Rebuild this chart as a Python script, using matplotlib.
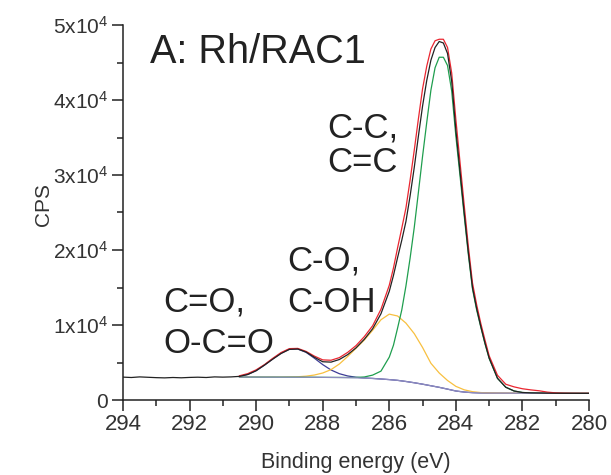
import numpy as np
import matplotlib
matplotlib.use("Agg")
import matplotlib.pyplot as plt
from matplotlib.ticker import MultipleLocator, FuncFormatter

plt.rcParams['font.family'] = ['Liberation Sans', 'DejaVu Sans']
plt.rcParams['mathtext.fontset'] = 'custom'
plt.rcParams['mathtext.rm'] = 'Liberation Sans'
plt.rcParams['mathtext.default'] = 'regular'

# binding energy grid (eV): 0.25 eV steps, 0.125 eV across the main peak
energy = np.concatenate([np.arange(294.0, 286.1, -0.25),
                         np.arange(286.0, 282.9, -0.125),
                         np.arange(282.75, 279.99, -0.25)])

# measured C1s spectrum (counts per second)
raw_cps = [3050, 3000, 3080, 3030, 2980, 2950, 3000, 2960, 3010, 3040,
           3000, 3080, 3050, 3080, 3150, 3400, 3900, 4650, 5450, 6200,
           6750, 6800, 6400, 5700, 5100, 5050, 5400, 6050, 6950, 8100,
           9500, 11500,
           14500, 16600, 19000, 21300, 23800, 27200, 31000, 35200, 39200, 42600,
           45300, 47000, 47800, 47600, 46200, 42500, 36000, 30500, 25000, 19700,
           15000, 12200, 9800, 7600, 5600,
           2900, 1700, 1200, 1000, 950, 930, 910, 900, 890, 890,
           885, 885]

# fitted range 290.5 -> 280 eV (same grid as the spectrum)
fit_energy = energy[14:]

envelope = [3230, 3520, 4020, 4720, 5560, 6330, 6850, 6880, 6480, 5850,
            5350, 5300, 5650, 6350, 7250, 8450, 9900, 12100,
            15300, 17600, 20300, 22900, 25600, 29300, 33300, 37500, 41500, 44500,
            46800, 47900, 48100, 48100, 47000, 43600, 37400, 31700, 26000, 20500,
            15600, 12700, 10200, 8000, 5900,
            3300, 2100, 1750, 1500, 1350, 1230, 1050, 950, 910, 895,
            888, 885]

# C-C, C=C component
peak_cc = [3060, 3055, 3055, 3050, 3050, 3045, 3045, 3040, 3035, 3030,
           3020, 3012, 3005, 3000, 3010, 3070, 3320, 3850,
           5720, 7300, 9600, 12000, 15200, 18900, 23000, 27700, 32500, 37000,
           41300, 44300, 45700, 45700, 44600, 41200, 35200, 29900, 24600, 19400,
           14800, 12000, 9700, 7500, 5550,
           2895, 1700, 1200, 1000, 945, 930, 910, 900, 895, 885,
           885, 885]

# background and the two oxygen components, 0.25 eV grid
comp_energy = np.arange(290.5, 279.99, -0.25)

background = [3060, 3055, 3055, 3050, 3050, 3045, 3045, 3040, 3035, 3030,
              3020, 3010, 3000, 2980, 2950, 2910, 2870, 2800, 2720, 2620,
              2470, 2300, 2110, 1900, 1690, 1450, 1200, 1060, 980, 940,
              920, 910, 905, 900, 900, 895, 895, 890, 890, 890,
              885, 885, 885]

# C=O, O-C=O component
peak_coo = [3150, 3420, 3920, 4650, 5480, 6250, 6780, 6800, 6355, 5570,
            4720, 4002, 3506, 3206, 3038, 2940, 2879, 2800, 2720, 2620,
            2470, 2300, 2110, 1900, 1690, 1450, 1200, 1060, 980, 940,
            920, 910, 905, 900, 900, 895, 895, 890, 890, 890,
            885, 885, 885]

# C-O, C-OH component
peak_coh = [3060, 3055, 3055, 3050, 3055, 3057, 3075, 3100, 3175, 3330,
            3600, 4050, 4800, 5800, 6900, 8000, 9300, 10700, 11450, 11200,
            10250, 8850, 7000, 4900, 3600, 2600, 1820, 1360, 1110, 990,
            940, 915, 905, 900, 900, 895, 895, 890, 890, 890,
            885, 885, 885]

fig = plt.figure(figsize=(6.11, 4.75), dpi=100)
ax = fig.add_axes([123 / 611, 75 / 475, 466 / 611, 375 / 475])

ax.plot(comp_energy, peak_coo, color='#3c3c96', lw=0.9)
ax.plot(comp_energy, peak_coh, color='#f8c040', lw=0.9)
ax.plot(fit_energy, peak_cc, color='#1f9e4e', lw=0.9)
ax.plot(comp_energy, background, color='#8e8cc0', lw=0.9)
ax.plot(fit_energy, envelope, color='#ea2630', lw=0.9)
ax.plot(energy, raw_cps, color='#222222', lw=0.9)

ax.set_xlim(294, 280)
ax.set_ylim(0, 50000)
ax.spines['top'].set_visible(False)
ax.spines['right'].set_visible(False)
for s in ['left', 'bottom']:
    ax.spines[s].set_linewidth(1.1)
    ax.spines[s].set_color('#222222')

ax.xaxis.set_major_locator(MultipleLocator(2))
ax.xaxis.set_minor_locator(MultipleLocator(1))
ax.yaxis.set_major_locator(MultipleLocator(10000))
ax.yaxis.set_minor_locator(MultipleLocator(5000))
ax.yaxis.set_major_formatter(FuncFormatter(
    lambda v, p: '0' if v == 0 else '%dx10$^{4}$' % round(v / 10000)))

ax.tick_params(which='major', direction='out', length=8, width=1.1,
               color='#222222', labelcolor='#333333')
ax.tick_params(which='minor', direction='out', length=4.5, width=1.1,
               color='#222222')
ax.tick_params(axis='x', labelsize=16, pad=2)
ax.tick_params(axis='y', labelsize=15, pad=3)

ax.text(293.19, 44900, 'A: Rh/RAC1', fontsize=28.5, color='#222222',
        va='baseline')

labels = ['C-C,', 'C=C', 'C-O,', 'C-OH', 'C=O,', 'O-C=O']
label_x = [287.87, 287.87, 289.08, 289.08, 292.8, 292.8]
label_y = [35060, 30400, 17330, 11730, 11860, 6270]
for t, lx, ly in zip(labels, label_x, label_y):
    ax.text(lx, ly, t, fontsize=25, color='#222222', va='baseline')

fig.text(356 / 611, 7 / 475, 'Binding energy (eV)', fontsize=15.5,
         color='#333333', ha='center', va='baseline')
fig.text(43 / 611, 270 / 475, 'CPS', fontsize=15, color='#333333',
         rotation=90, ha='center', va='center')

fig.savefig('out.png', dpi=100)
